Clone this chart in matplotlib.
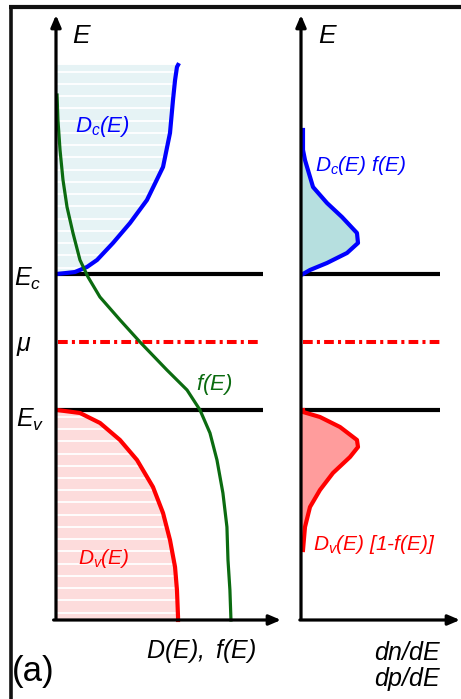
import numpy as np
import matplotlib
matplotlib.use("Agg")
import matplotlib.pyplot as plt
from matplotlib.lines import Line2D

plt.rcParams['font.family'] = ['Liberation Sans', 'DejaVu Sans']
plt.rcParams['mathtext.fontset'] = 'custom'
plt.rcParams['mathtext.rm'] = 'Liberation Sans:italic'
plt.rcParams['mathtext.it'] = 'Liberation Sans:italic'
plt.rcParams['mathtext.bf'] = 'Liberation Sans:bold:italic'
plt.rcParams['lines.scale_dashes'] = False

# ---------------- data (energy units: Ec = 1, mu = 0, Ev = -1) ----------------
E_c, E_mu, E_v = 1.0, 0.0, -1.0

# conduction band density of states D_c(E)
Dc_E = [1.0, 1.029, 1.103, 1.206, 1.456, 1.750, 2.088, 2.574, 3.074, 3.559, 3.85, 4.044, 4.074]
Dc_D = [0.008, 0.158, 0.258, 0.342, 0.475, 0.617, 0.758, 0.892, 0.950, 0.975, 0.992, 1.008, 1.017]

# valence band density of states D_v(E)
Dv_E = [-1.0, -1.044, -1.191, -1.441, -1.735, -2.132, -2.515, -2.912, -3.309, -3.647, -4.044, -4.088]
Dv_D = [0.008, 0.200, 0.367, 0.533, 0.675, 0.808, 0.892, 0.950, 0.992, 1.008, 1.017, 1.017]

# Fermi function f(E)
f_E = [3.632, 3.265, 2.824, 2.382, 1.985, 1.603, 1.206, 0.956, 0.662, 0.324, 0.0,
       -0.412, -0.706, -1.0, -1.338, -1.735, -2.221, -2.721, -3.206, -3.647, -4.088]
f_val = [0.006, 0.011, 0.023, 0.040, 0.063, 0.097, 0.137, 0.183, 0.251, 0.366, 0.480,
         0.634, 0.749, 0.823, 0.880, 0.920, 0.954, 0.977, 0.983, 0.994, 1.0]
f_scale = 1.458  # f = 1 drawn at this D position

# electron density dn/dE = D_c f
n_E = [3.118, 2.824, 2.676, 2.279, 2.044, 1.838, 1.603, 1.456, 1.309, 1.162, 1.059, 1.0]
n_val = [0.035, 0.035, 0.070, 0.211, 0.456, 0.719, 0.982, 1.0, 0.807, 0.456, 0.158, 0.035]

# hole density dp/dE = D_v (1 - f)
p_E = [-1.0, -1.029, -1.103, -1.25, -1.441, -1.544, -1.691, -1.926, -2.176, -2.426, -2.721, -3.059]
p_val = [0.035, 0.035, 0.333, 0.684, 0.982, 1.0, 0.860, 0.561, 0.333, 0.158, 0.070, 0.035]

# ---------------- figure ----------------
W, H = 461, 699
fig = plt.figure(figsize=(W / 100, H / 100), dpi=100)
fig.patch.set_facecolor('white')

def fx(px):
    return px / W

def fy(py):
    return 1 - py / H

def E_of(py):
    return (342 - py) / 68.0

BLUE = '#0000ff'
RED = '#ff0000'
GREEN = '#0b6b10'

# frame lines (top and left)
fig.add_artist(Line2D([fx(9), fx(461)], [fy(7), fy(7)], color='#111111', lw=3.0,
                      solid_capstyle='butt'))
fig.add_artist(Line2D([fx(10.5), fx(10.5)], [fy(6), fy(699)], color='#111111', lw=2.6,
                      solid_capstyle='butt'))

ytop_px, ybot_px = 12, 624
Etop, Ebot = E_of(ytop_px), E_of(ybot_px)
E_axis = E_of(620)

def make_ax(left_px, right_px, unit_px):
    ax = fig.add_axes([fx(left_px), fy(ybot_px), (right_px - left_px) / W, (ybot_px - ytop_px) / H])
    ax.set_xlim(0, (right_px - left_px) / unit_px)
    ax.set_ylim(Ebot, Etop)
    ax.axis('off')
    ax.patch.set_alpha(0)
    return ax

def stripes(ax, poly, Emin, Emax, xmax):
    for e in np.arange(Emax - 0.1, Emin, -0.18):
        ln, = ax.plot([0, xmax], [e, e], color='white', lw=1.3, zorder=2)
        ln.set_clip_path(poly, ax.transData)

def axes_arrows(ax, x_end, y_end):
    ax.annotate('', xy=(0, y_end), xytext=(0, E_axis + 0.02),
                arrowprops=dict(arrowstyle='-|>,head_length=0.7,head_width=0.3', color='black',
                                lw=2.3, shrinkA=0, shrinkB=0), zorder=6)
    ax.annotate('', xy=(x_end, E_axis), xytext=(-0.02, E_axis),
                arrowprops=dict(arrowstyle='-|>,head_length=0.7,head_width=0.3', color='black',
                                lw=2.3, shrinkA=0, shrinkB=0), zorder=6)

# ---------- left panel ----------
axL = make_ax(56, 284, 120)
pc = axL.fill_betweenx(Dc_E, 0, Dc_D, facecolor='#e6f3f5', edgecolor='none', zorder=1)
stripes(axL, pc.get_paths()[0], Dc_E[0], Dc_E[-1], 1.1)
pv = axL.fill_betweenx(Dv_E, 0, Dv_D, facecolor='#fddcdc', edgecolor='none', zorder=1)
stripes(axL, pv.get_paths()[0], Dv_E[-1], Dv_E[0], 1.1)
axL.plot(Dc_D, Dc_E, color=BLUE, lw=3.0, zorder=4, solid_joinstyle='round')
axL.plot(Dv_D, Dv_E, color=RED, lw=3.0, zorder=4, solid_joinstyle='round')
xend_line = (263 - 56) / 120
axL.plot([0, xend_line], [E_c, E_c], color='black', lw=3.0, zorder=3, solid_capstyle='butt')
axL.plot([0, xend_line], [E_v, E_v], color='black', lw=3.0, zorder=3, solid_capstyle='butt')
mu_line, = axL.plot([2 / 120, (261 - 56) / 120], [E_mu, E_mu], color=RED, lw=2.9, zorder=3,
                    solid_capstyle='butt', dash_capstyle='butt')
mu_line.set_dashes([7.0, 3.0, 2.2, 3.0])
axL.plot(np.array(f_val) * f_scale, f_E, color=GREEN, lw=2.3, zorder=5)
axes_arrows(axL, (281 - 56) / 120, E_of(15))

# ---------- right panel ----------
axR = make_ax(301, 461, 57)
axR.fill_betweenx(n_E, 0, n_val, facecolor='#b6dfdf', edgecolor='none', zorder=1)
axR.fill_betweenx(p_E, 0, p_val, facecolor='#ff9c9c', edgecolor='none', zorder=1)
axR.plot(n_val, n_E, color=BLUE, lw=3.0, zorder=4, solid_joinstyle='round')
axR.plot(p_val, p_E, color=RED, lw=3.0, zorder=4, solid_joinstyle='round')
xend_r = (440 - 301) / 57
axR.plot([0, xend_r], [E_c, E_c], color='black', lw=3.0, zorder=3, solid_capstyle='butt')
axR.plot([0, xend_r], [E_v, E_v], color='black', lw=3.0, zorder=3, solid_capstyle='butt')
mu_r, = axR.plot([2 / 57, xend_r], [E_mu, E_mu], color=RED, lw=2.9, zorder=3,
                 solid_capstyle='butt', dash_capstyle='butt')
mu_r.set_dashes([7.0, 3.0, 2.2, 3.0])
axes_arrows(axR, (460 - 301) / 57, E_of(15))

# ---------------- text ----------------
def txt(px, py, s, color='black', size=17, ha='left', **kw):
    fig.text(fx(px), fy(py), s, color=color, fontsize=size, ha=ha, va='baseline', **kw)

txt(72, 43, r'$E$', size=19)
txt(318, 43, r'$E$', size=19)
txt(75, 132, r'$D_c(E)$', color=BLUE, size=16)
txt(14, 286, r'$E_c$', size=18)
txt(16, 351, r'$\mu$', size=18)
txt(16, 427, r'$E_v$', size=18)
txt(196, 390, r'$f(E)$', color=GREEN, size=16)
txt(78, 564, r'$D_v(E)$', color=RED, size=15)
txt(146, 658, r'$D(E),\ f(E)$', size=18)
txt(12, 681, '(a)', size=25)
txt(315, 171, r'$D_c(E)\ f(E)$', color=BLUE, size=15)
txt(313, 550, r'$D_v(E)\ [1\text{-}f(E)]$', color=RED, size=15)
txt(442, 660, r'$dn/dE$', size=18, ha='right')
txt(442, 686, r'$dp/dE$', size=18, ha='right')

fig.savefig('out.png', dpi=100, facecolor='white')
